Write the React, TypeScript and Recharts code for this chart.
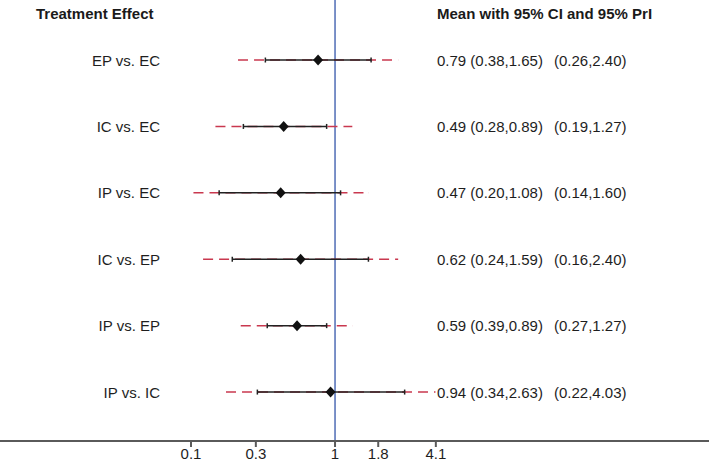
import React from 'react';
import {
  ComposedChart,
  Scatter,
  ErrorBar,
  XAxis,
  YAxis,
  ReferenceLine,
} from 'recharts';

// comparisons, top to bottom
const categories = ['EP vs. EC', 'IC vs. EC', 'IP vs. EC', 'IC vs. EP', 'IP vs. EP', 'IP vs. IC'];
const means = [0.79, 0.49, 0.47, 0.62, 0.59, 0.94];
const ciLow = [0.38, 0.28, 0.2, 0.24, 0.39, 0.34];
const ciHigh = [1.65, 0.89, 1.08, 1.59, 0.89, 2.63];
const prLow = [0.26, 0.19, 0.14, 0.16, 0.27, 0.22];
const prHigh = [2.4, 1.27, 1.6, 2.4, 1.27, 4.03];

// axis ticks sit at exp(-2, -1.1, 0, 0.6, 1.4), labels rounded
const tickValues = [0.1353, 0.3329, 1, 1.8221, 4.0552];
const tickLabels = ['0.1', '0.3', '1', '1.8', '4.1'];

const W = 709;
const H = 464;
const FONT = '"Liberation Sans", Arial, Helvetica, sans-serif';

const data = categories.map((name, i) => ({
  name,
  row: i,
  mean: means[i],
  ciErr: [means[i] - ciLow[i], ciHigh[i] - means[i]],
  prErr: [means[i] - prLow[i], prHigh[i] - means[i]],
  text: `${means[i].toFixed(2)} (${ciLow[i].toFixed(2)},${ciHigh[i].toFixed(2)})`,
  text2: `(${prLow[i].toFixed(2)},${prHigh[i].toFixed(2)})`,
}));

const Diamond = (props: any) => {
  const { cx, cy } = props;
  const r = 5;
  return (
    <path
      d={`M${cx},${cy - r - 0.5} L${cx + r},${cy} L${cx},${cy + r + 0.5} L${cx - r},${cy} Z`}
      fill="#111"
    />
  );
};

const Empty = () => <g />;

// row label on the left, estimate text on the right, both at the row's y
const RowText = (props: any) => {
  const { cy, payload } = props;
  if (cy == null || !payload) return <g />;
  return (
    <g fontFamily={FONT} fontSize={15} fill="#1e1e1e">
      <text x={160} y={cy} textAnchor="end" dominantBaseline="central">
        {payload.name}
      </text>
      <text x={437} y={cy} textAnchor="start" dominantBaseline="central">
        {payload.text}
      </text>
      <text x={554} y={cy} textAnchor="start" dominantBaseline="central">
        {payload.text2}
      </text>
    </g>
  );
};

export default function App() {
  return (
    <div style={{ position: 'absolute', left: 0, top: 0, width: W, height: H, background: '#fff' }}>
      <ComposedChart width={W} height={H} data={data} margin={{ top: 0, right: 0, bottom: 0, left: 0 }}>
        <XAxis
          type="number"
          dataKey="mean"
          scale="log"
          domain={[0.00953, 180.2]}
          allowDataOverflow
          ticks={tickValues}
          tickFormatter={(v: number) => tickLabels[tickValues.indexOf(v)] ?? ''}
          height={23}
          stroke="#5a5a5a"
          strokeWidth={2}
          tickSize={6}
          tickMargin={1}
          tick={{ fill: '#1e1e1e', fontSize: 15, fontFamily: FONT }}
        />
        <YAxis
          type="number"
          dataKey="row"
          domain={[-0.904, 5.737]}
          reversed
          allowDataOverflow
          width={0}
          hide
        />
        <ReferenceLine x={1} stroke="#4f6cb5" strokeWidth={1.5} />
        <Scatter dataKey="mean" shape={<RowText />} isAnimationActive={false} />
        <Scatter dataKey="mean" shape={<Empty />} isAnimationActive={false}>
          <ErrorBar
            dataKey="prErr"
            direction="x"
            width={0}
            stroke="#c9384f"
            strokeWidth={1.5}
            strokeDasharray="10 6"
          />
        </Scatter>
        <Scatter dataKey="mean" shape={<Empty />} isAnimationActive={false}>
          <ErrorBar dataKey="ciErr" direction="x" width={2.5} stroke="#222" strokeWidth={1.5} />
        </Scatter>
        <Scatter dataKey="mean" shape={<Diamond />} isAnimationActive={false} />
        <text x={36} y={19} fontFamily={FONT} fontSize={15} fontWeight="bold" fill="#1a1a1a">
          Treatment Effect
        </text>
        <text x={437} y={19} fontFamily={FONT} fontSize={15} fontWeight="bold" fill="#1a1a1a">
          Mean with 95% CI and 95% PrI
        </text>
      </ComposedChart>
    </div>
  );
}
